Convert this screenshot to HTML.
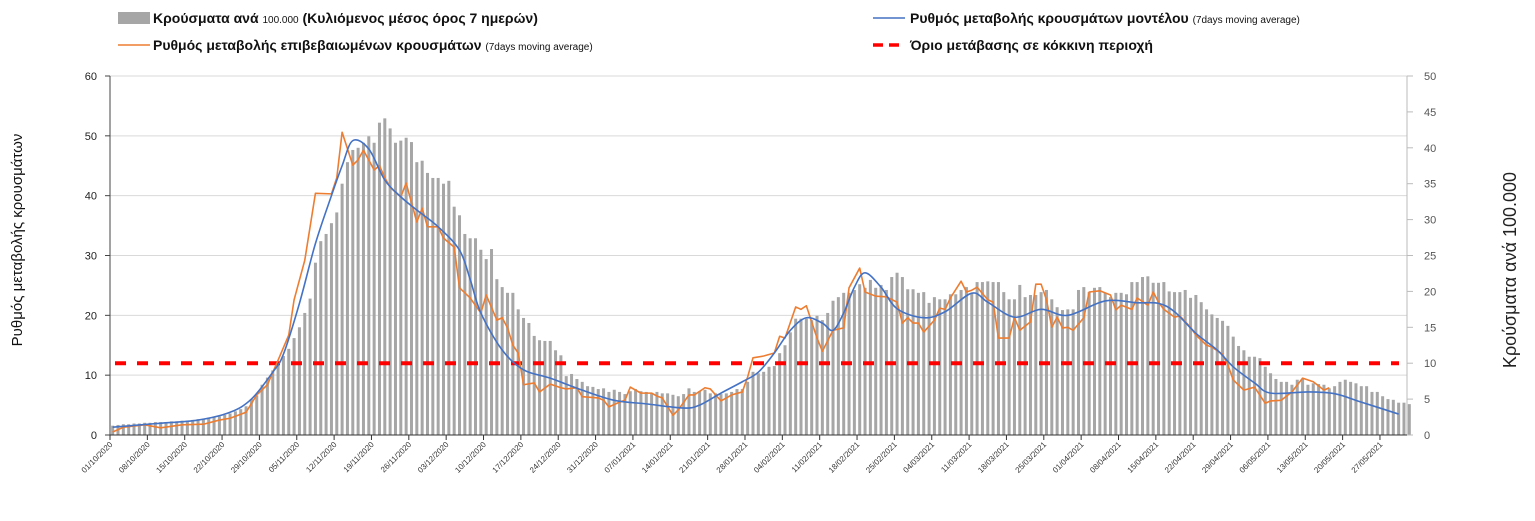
<!DOCTYPE html>
<html><head><meta charset="utf-8"><style>
html,body{margin:0;padding:0;background:#fff;width:1535px;height:521px;overflow:hidden}
svg{display:block;font-family:"Liberation Sans","DejaVu Sans",sans-serif}
</style></head><body>
<svg id="chart" width="1535" height="521" viewBox="0 0 1535 521">
<g>
 <rect x="118" y="12" width="32" height="12" fill="#a6a6a6"/>
 <text x="153" y="23" font-size="14" font-weight="bold" fill="#111">Κρούσματα ανά <tspan font-size="10" font-weight="normal">100.000</tspan> (Κυλιόμενος μέσος όρος 7 ημερών)</text>
 <line x1="118" y1="45" x2="150" y2="45" stroke="#ed7d31" stroke-width="1.5"/>
 <text x="153" y="50" font-size="14" font-weight="bold" fill="#111">Ρυθμός μεταβολής επιβεβαιωμένων κρουσμάτων <tspan font-size="10" font-weight="normal">(7days moving average)</tspan></text>
 <line x1="873" y1="18" x2="905" y2="18" stroke="#4472c4" stroke-width="1.5"/>
 <text x="910" y="23" font-size="14" font-weight="bold" fill="#111">Ρυθμός μεταβολής κρουσμάτων μοντέλου <tspan font-size="10" font-weight="normal">(7days moving average)</tspan></text>
 <line x1="873" y1="45" x2="905" y2="45" stroke="#ff0000" stroke-width="3.5" stroke-dasharray="10,6"/>
 <text x="910" y="50" font-size="14" font-weight="bold" fill="#111">Όριο μετάβασης σε κόκκινη περιοχή</text>
</g>
<text transform="translate(22,240) rotate(-90)" text-anchor="middle" font-size="15" fill="#111">Ρυθμός μεταβολής κρουσμάτων</text>
<text transform="translate(1516,270) rotate(-90)" text-anchor="middle" font-size="18" fill="#222">Κρούσματα ανά 100.000</text>
<g id="grid"></g><g id="bars"></g><g id="lines"></g><g id="axes"></g>
</svg>
<script>
const startDate = [2020, 10, 1];
const nDays = 243;
const leftTicks = [0,10,20,30,40,50,60];
const rightTicks = [0,5,10,15,20,25,30,35,40,45,50];
const thresholdValue = 12;
const barValues = [1.3,1.4,1.5,1.5,1.6,1.6,1.7,1.7,1.8,1.8,1.8,1.9,1.9,2.0,2.0,2.1,2.2,2.3,2.4,2.5,2.6,2.8,3.0,3.3,3.6,4.0,5.0,5.5,7.0,8.0,9.0,10.0,11.0,12.0,13.5,15.0,17.0,
19,24,27,28,29.5,31,35,38,39.7,40,40.7,41.6,40.7,43.5,44.1,42.7,40.7,41,41.4,40.8,38,38.2,36.5,35.8,35.8,35,35.4,31.8,30.6,28,27.4,27.4,25.8,
24.5,25.9,21.7,20.6,19.8,19.8,17.5,16.3,15.6,13.8,13.2,13.1,13.1,11.8,11.1,8.2,8.5,7.8,7.4,6.8,6.7,6.4,6.5,6,6.3,6,5.7,6.1,6.4,6.1,6,5.8,6,5.8,5.8,5.6,5.4,5.7,6.5,6,6.1,6.3,5.8,5.8,5.7,5.8,6,6.4,6.4,7.4,8.8,8.6,8.8,9.5,9.6,11.4,12.5,14.3,16.2,16.2,16.2,16,16.6,16,17,18.7,19.2,19.8,19.8,20.2,21,20.5,21.6,20.5,20.9,20.2,
22,22.6,22,20.3,20.3,19.8,19.9,18.4,19.2,18.9,18.9,19.6,19.6,20.2,20.6,19.8,21.3,21.3,21.4,21.3,21.3,19.9,18.9,18.9,20.9,19.2,19.5,19.5,19.9,20.2,18.9,17.8,17.4,17.5,17.5,20.2,20.6,19.9,20.5,20.6,19.8,19.2,19.8,19.8,19.6,21.3,21.3,22,22.1,21.2,21.2,21.3,20,19.9,19.9,20.2,19.1,19.5,18.5,17.5,16.8,16.3,15.9,15.2,13.7,12.4,11.8,10.9,10.9,10.7,9.5,8.6,7.8,7.4,7.4,7,7.7,7.8,7,7.2,7.1,7,6.5,6.8,7.4,7.7,7.4,7.2,6.8,6.8,6,6,5.4,5,4.9,4.5,4.5,4.3];
const modelDays = [0,8,16,22,26,30,32,35,38,41,43,45,48,51,54,57,61,65,67,69,73,77,82,88,94,100,107,110,114,118,121,124,127,130,133,135,137,139,141,144,147,152,156,161,164,169,174,179,186,192,196,199,203,207,210,214,217,224,229,234,241];
const modelValues = [1.3,1.9,2.5,3.8,6,10.5,13.5,22,32,40,45,49.2,47.8,42.6,39.8,37.6,34.8,30.9,26,20.4,14.2,10.9,9.5,7.5,5.8,5.2,4.5,5,7,8.9,10.5,13.7,17.5,19.6,18.7,17.5,20.4,24.7,27.1,24.7,21.1,19.6,20.6,23.7,22.2,19.7,21,20,22.4,22.1,22,20.6,17,14.2,11.4,8.7,7,7.2,6.9,5.5,3.5];
const confirmedDays = [0,2,6,9,13,17,20,22,25,27,29,31,33,34,36,38,41,42,43,45,46,47,49,50,51,52,54,55,57,58,59,61,62,64,65,67,69,70,72,73,74,75,76,77,79,80,82,84,85,87,88,91,92,93,95,96,97,99,101,102,103,105,106,108,109,111,112,114,116,118,119,120,122,124,125,126,128,129,130,132,133,135,137,138,140,141,143,145,147,148,149,150,151,152,154,155,156,157,159,160,161,162,164,165,166,168,169,170,172,173,174,175,176,177,178,179,180,182,183,185,187,188,189,191,192,194,195,196,197,199,200,202,203,205,206,208,209,210,212,214,216,217,219,221,223,225,227,228];
const confirmedValues = [0.5,1.3,1.7,1.2,1.7,1.8,2.5,2.8,3.8,6.7,8.4,12.5,16.7,22.6,29.2,40.4,40.3,43,50.6,45.1,46,47.6,44.3,45,43,41.4,39.8,42.1,35.6,37.9,34.8,34.8,32.9,31.4,24.6,22.9,20.4,23.4,19.2,19.6,17.9,15,13.7,8.4,8.7,7.2,8.5,7.9,7.7,7.9,6.4,6.2,5.8,4.7,5.5,5.8,8,7,7,6.5,6.2,3.3,4.2,6.7,6.7,7.9,7.7,5.7,6.7,7.2,9.7,12.9,13.2,13.7,16.5,16.2,21.4,21,21.6,16.2,14,17.5,17.9,24.6,27.9,23.9,23.2,23.1,22.2,18.7,19.6,18.7,18.7,17.2,19.2,21.2,21,22.9,25.7,23.9,24.2,24.7,22.6,22.2,16.2,16.2,19.6,17.5,18.9,25.2,25.2,22.6,18,19.7,17.9,18,17.5,19.6,23.9,24.1,23.4,20.9,21.7,21,22.9,21.7,23.9,22.2,21,19.7,19.9,18,16.7,15,14.7,13.5,11.7,9.2,7.5,8,5.3,5.7,5.8,7.2,9.5,8.9,7.5,7.9];

const NS='http://www.w3.org/2000/svg';
const X0=110, DX=5.336, Y0=435, YTOP=76, PR=1407;
const xDay = d => X0 + DX*(d+0.5);
const yL = v => Y0 - v*(Y0-YTOP)/60;
const yR = v => Y0 - v*(Y0-YTOP)/50;
function mk(tag, attrs, parent){const e=document.createElementNS(NS,tag);for(const k in attrs)e.setAttribute(k,attrs[k]);parent.appendChild(e);return e;}
const grid=document.getElementById('grid'), bars=document.getElementById('bars'), lines=document.getElementById('lines'), axes=document.getElementById('axes');

leftTicks.forEach(v=>{
  if(v>0){const g=mk('line',{x1:X0,x2:PR,y1:yL(v),y2:yL(v),stroke:'#d9d9d9','stroke-width':1},grid);
  
  }
  const t=mk('text',{x:97,y:yL(v)+4,'text-anchor':'end','font-size':11,fill:'#222'},axes);t.textContent=v;
  
  
  mk('line',{x1:X0-5,x2:X0,y1:yL(v),y2:yL(v),stroke:'#444'},axes);
});
rightTicks.forEach(v=>{
  const t=mk('text',{x:1424,y:yR(v)+4,'font-size':11,fill:'#555'},axes);t.textContent=v;
  
  
  mk('line',{x1:PR,x2:PR+6,y1:yR(v),y2:yR(v),stroke:'#bbb'},axes);
});
mk('line',{x1:PR,x2:PR,y1:YTOP,y2:Y0,stroke:'#bbb'},axes);
mk('line',{x1:X0,x2:X0,y1:YTOP,y2:Y0,stroke:'#444'},axes);

barValues.forEach((v,d)=>{
  const r=mk('rect',{x:xDay(d)-1.5,y:yR(v),width:3,height:Y0-yR(v),fill:'#a6a6a6'},bars);
  
  
});

function smoothPath(pts){
  let p='M'+pts[0][0]+','+pts[0][1];
  for(let i=0;i<pts.length-1;i++){
    const p0=pts[Math.max(0,i-1)],p1=pts[i],p2=pts[i+1],p3=pts[Math.min(pts.length-1,i+2)];
    const c1=[p1[0]+(p2[0]-p0[0])/6,p1[1]+(p2[1]-p0[1])/6], c2=[p2[0]-(p3[0]-p1[0])/6,p2[1]-(p3[1]-p1[1])/6];
    p+=' C'+c1+' '+c2+' '+p2;
  }
  return p;
}
const thr=mk('line',{x1:X0+5,x2:PR-8,y1:yL(thresholdValue),y2:yL(thresholdValue),stroke:'#ff0000','stroke-width':4,'stroke-dasharray':'11,11'},lines);


const op=mk('polyline',{points:confirmedDays.map((d,i)=>xDay(d)+','+yL(confirmedValues[i])).join(' '),fill:'none',stroke:'#ed7d31','stroke-width':1.6,'stroke-linejoin':'round'},lines);


const bp=mk('path',{d:smoothPath(modelDays.map((d,i)=>[xDay(d),yL(modelValues[i])])),fill:'none',stroke:'#4472c4','stroke-width':1.6},lines);



mk('line',{x1:X0,x2:PR,y1:Y0,y2:Y0,stroke:'#333'},axes);
const base=new Date(startDate[0],startDate[1]-1,startDate[2],12);
for(let d=0; d<nDays; d+=7){
  const x=X0+DX*d;
  mk('line',{x1:x,x2:x,y1:Y0,y2:Y0+5,stroke:'#333'},axes);
  const dt=new Date(base.getTime()+d*86400000);
  const s=String(dt.getDate()).padStart(2,'0')+'/'+String(dt.getMonth()+1).padStart(2,'0')+'/'+dt.getFullYear();
  const t=mk('text',{transform:'translate('+(x+3)+','+(Y0+10)+') rotate(-45)','text-anchor':'end','font-size':8,fill:'#333'},axes);
  t.textContent=s;
  
  
}
</script>
</body></html>
